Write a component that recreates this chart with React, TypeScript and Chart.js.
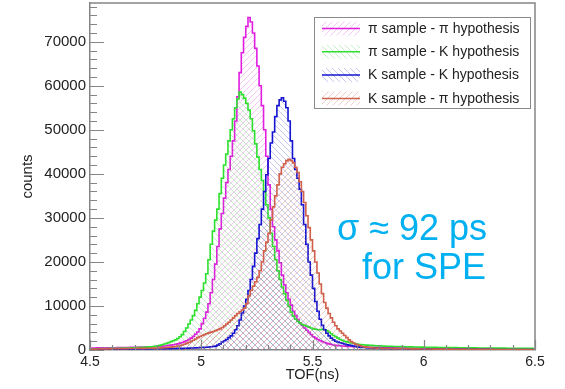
import React, { useEffect, useRef } from 'react';
import { Chart, registerables } from 'chart.js';

Chart.register(...registerables);

// ---- data (histograms, 0.01 ns bins starting at 4.50 ns) ----
const BIN_START = 4.5;
const BIN_WIDTH = 0.01;

const xTickValues = [4.5, 5, 5.5, 6, 6.5];
const yTickValues = [0, 10000, 20000, 30000, 40000, 50000, 60000, 70000];

const seriesLabels = [
  'π sample - π hypothesis',
  'π sample - K hypothesis',
  'K sample - K hypothesis',
  'K sample - π hypothesis',
];

const piSamplePiHyp = [
  400, 450, 420, 480, 450, 500, 470, 520, 500, 480,
  520, 500, 550, 530, 560, 540, 580, 560, 600, 590,
  620, 600, 650, 640, 680, 700, 690, 720, 750, 780,
  800, 850, 880, 920, 980, 1050, 1100, 1200, 1300, 1400,
  1550, 1700, 1900, 2100, 2400, 2700, 3100, 3600, 4100, 4800,
  6000, 7200, 8600, 10500, 13000, 16000, 19500, 23500, 27500, 31000,
  34500, 38000, 41000, 44000, 47500, 52000, 57500, 63000, 67500, 71000,
  73500, 75500, 74500, 72000, 68500, 64500, 60000, 55500, 50000, 44000,
  37500, 32000, 28000, 25000, 22500, 19800, 17000, 14800, 13000, 11500,
  10200, 8800, 7800, 6900, 6200, 5600, 5000, 4500, 4000, 3500,
  3000, 2700, 2400, 2100, 1900, 1700, 1500, 1400, 1250, 1150,
  1050, 1000, 950, 900, 870, 830, 800, 780, 760, 740,
  720, 700, 690, 670, 660, 640, 630, 620, 600, 590,
  580, 570, 560, 550, 540, 530, 520, 510, 500, 500,
  490, 480, 470, 460, 460, 450, 440, 440, 430, 420,
  420, 410, 400, 400, 390, 380, 380, 370, 360, 360,
  350, 350, 340, 340, 330, 330, 320, 320, 310, 310,
  300, 300, 300, 290, 290, 280, 280, 280, 270, 270,
  260, 260, 260, 250, 250, 250, 240, 240, 240, 230,
  230, 230, 220, 220, 220, 210, 210, 210, 200, 200,
];

const piSampleKHyp = [
  250, 280, 260, 300, 290, 320, 300, 340, 330, 360,
  350, 380, 370, 400, 420, 410, 440, 460, 480, 500,
  520, 540, 570, 600, 630, 660, 700, 750, 800, 860,
  950, 1050, 1200, 1350, 1500, 1700, 1900, 2100, 2300, 2600,
  3000, 3500, 4200, 5000, 5900, 6800, 7800, 9000, 10500, 12000,
  13500, 15200, 17300, 20500, 24000, 27000, 29500, 32000, 35500, 39000,
  42000, 44500, 47500, 50000, 52500, 55000, 57000, 58600, 58000, 57200,
  56000, 54500, 52500, 49800, 46800, 43800, 41000, 38500, 36000, 33000,
  30000, 26500, 23500, 20500, 18000, 16000, 14300, 12800, 11300, 9900,
  8600, 7700, 7000, 6500, 6100, 5800, 5600, 5400, 5200, 5000,
  4800, 4700, 4600, 4600, 4700, 4600, 4400, 4100, 3700, 3300,
  3000, 2700, 2400, 2200, 2000, 1850, 1700, 1600, 1500, 1400,
  1300, 1250, 1200, 1150, 1100, 1080, 1050, 1000, 980, 950,
  930, 900, 880, 860, 850, 830, 810, 800, 780, 770,
  760, 740, 730, 720, 700, 690, 680, 670, 660, 650,
  640, 630, 620, 610, 600, 590, 580, 580, 570, 560,
  550, 550, 540, 530, 530, 520, 510, 510, 500, 500,
  490, 490, 480, 480, 470, 470, 460, 460, 450, 450,
  440, 440, 430, 430, 420, 420, 420, 410, 410, 400,
  400, 400, 390, 390, 390, 380, 380, 380, 370, 370,
];

const kSampleKHyp = [
  100, 120, 110, 130, 120, 140, 130, 150, 140, 160,
  150, 170, 160, 180, 170, 190, 200, 190, 210, 220,
  210, 230, 240, 230, 250, 260, 250, 270, 280, 270,
  290, 300, 290, 310, 320, 330, 320, 340, 350, 360,
  370, 380, 390, 400, 420, 440, 460, 480, 500, 530,
  560, 600, 640, 690, 740, 800, 880, 1100, 1400, 1800,
  2100, 2400, 2800, 3200, 3800, 4600, 5500, 6800, 8400, 10000,
  11500, 13500, 16000, 19000, 22000, 25300, 28500, 32000, 36000, 39800,
  43500, 47000, 49500, 53000, 55500, 56800, 57300, 56500, 55000, 52000,
  47500, 43500, 41000, 39000, 36500, 33000, 28500, 24000, 20000, 17000,
  14000, 11000, 8800, 7000, 5600, 4600, 3800, 3200, 2700, 2300,
  2000, 1800, 1650, 1500, 1350, 1200, 1100, 1000, 900, 800,
  720, 660, 600, 560, 520, 480, 450, 430, 410, 390,
  370, 360, 350, 340, 330, 320, 310, 300, 300, 290,
  280, 280, 270, 260, 260, 250, 250, 240, 240, 230,
  230, 220, 220, 220, 210, 210, 200, 200, 200, 190,
  190, 190, 180, 180, 180, 170, 170, 170, 160, 160,
  160, 160, 150, 150, 150, 150, 140, 140, 140, 140,
  130, 130, 130, 130, 130, 120, 120, 120, 120, 120,
  110, 110, 110, 110, 110, 100, 100, 100, 100, 100,
];

const kSamplePiHyp = [
  200, 220, 210, 240, 230, 250, 240, 260, 270, 260,
  280, 290, 280, 300, 310, 300, 320, 330, 340, 330,
  350, 360, 370, 360, 380, 390, 400, 410, 420, 430,
  440, 460, 480, 520, 560, 600, 650, 720, 800, 900,
  1000, 1150, 1300, 1500, 1700, 1950, 2200, 2500, 2800, 3050,
  3300, 3500, 3700, 3900, 4050, 4200, 4400, 4600, 4800, 5100,
  5500, 5900, 6300, 6800, 7300, 7800, 8300, 8700, 9100, 9500,
  10500, 12300, 13500, 14500, 15500, 16500, 18000, 20000, 22500, 24500,
  26500, 29500, 32500, 35000, 37500, 40000, 41500, 42300, 43000, 43300,
  43000, 42500, 41500, 40300, 38200, 36000, 33500, 30500, 27800, 25000,
  22500, 20000, 17500, 15000, 12800, 10800, 9500, 8300, 7300, 6300,
  5500, 4800, 4300, 3800, 3300, 2800, 2300, 1900, 1600, 1300,
  1100, 950, 800, 700, 620, 560, 510, 470, 440, 410,
  390, 370, 360, 350, 340, 330, 320, 310, 300, 300,
  290, 280, 280, 270, 260, 260, 250, 250, 240, 240,
  230, 230, 220, 220, 210, 210, 210, 200, 200, 200,
  190, 190, 190, 180, 180, 180, 170, 170, 170, 160,
  160, 160, 160, 150, 150, 150, 150, 140, 140, 140,
  140, 130, 130, 130, 130, 130, 120, 120, 120, 120,
  120, 110, 110, 110, 110, 110, 100, 100, 100, 100,
];

const annotationLines = ['σ ≈ 92 ps', 'for SPE'];

// ---- styles ----
const FONT = '"Liberation Sans", Arial, Helvetica, sans-serif';
const AXIS_COLOR = '#858585';
const TEXT_COLOR = '#222222';
const lineColors = ['#e01ee0', '#2ee02e', '#1414d2', '#d0604c'];
const hatchColors = [
  'rgba(225,80,225,0.33)',
  'rgba(80,205,80,0.33)',
  'rgba(70,70,205,0.3)',
  'rgba(210,115,95,0.35)',
];
const hatchDirs = [1, -1, -1, 1];

function makeHatch(color: string, dir: number, size = 6): CanvasPattern | string {
  const c = document.createElement('canvas');
  c.width = size;
  c.height = size;
  const g = c.getContext('2d');
  if (!g) return color;
  g.strokeStyle = color;
  g.lineWidth = 1;
  g.beginPath();
  if (dir === 1) {
    g.moveTo(0, size); g.lineTo(size, 0);
    g.moveTo(-1, 1); g.lineTo(1, -1);
    g.moveTo(size - 1, size + 1); g.lineTo(size + 1, size - 1);
  } else {
    g.moveTo(0, 0); g.lineTo(size, size);
    g.moveTo(-1, size - 1); g.lineTo(1, size + 1);
    g.moveTo(size - 1, -1); g.lineTo(size + 1, 1);
  }
  g.stroke();
  return g.createPattern(c, 'repeat') || color;
}

function toPoints(values: number[]) {
  return values.map((v, i) => ({ x: BIN_START + (i + 0.5) * BIN_WIDTH, y: v }));
}

const rootStylePlugin = {
  id: 'rootStyle',
  afterDatasetsDraw(chart: any) {
    const { ctx, chartArea, scales } = chart;
    const { left, right, top, bottom } = chartArea;
    const x = scales.x;
    const y = scales.y;
    ctx.save();
    // frame (top & right)
    ctx.strokeStyle = AXIS_COLOR;
    ctx.lineWidth = 1.5;
    ctx.beginPath();
    ctx.moveTo(left, top);
    ctx.lineTo(right, top);
    ctx.lineTo(right, bottom);
    ctx.stroke();
    // y ticks (inward)
    ctx.lineWidth = 1.2;
    ctx.beginPath();
    for (let v = 0; v <= y.max; v += 2000) {
      const py = Math.round(y.getPixelForValue(v)) + 0.5;
      const len = v % 10000 === 0 ? 14 : 7;
      ctx.moveTo(left, py);
      ctx.lineTo(left + len, py);
    }
    // x ticks (inward)
    for (let k = 0; k <= 20; k++) {
      const v = x.min + k * 0.1;
      const px = Math.round(x.getPixelForValue(v)) + 0.5;
      const len = k % 5 === 0 ? 10 : 5;
      ctx.moveTo(px, bottom);
      ctx.lineTo(px, bottom - len);
    }
    ctx.stroke();
    ctx.restore();
  },
  afterDraw(chart: any) {
    const { ctx } = chart;
    ctx.save();
    // legend box
    const bx = 314, by = 17, bw = 216, bh = 91;
    ctx.fillStyle = '#ffffff';
    ctx.fillRect(bx, by, bw, bh);
    ctx.strokeStyle = '#8a8a8a';
    ctx.lineWidth = 1;
    ctx.strokeRect(bx + 0.5, by + 0.5, bw, bh);
    chart.data.datasets.forEach((ds: any, i: number) => {
      const cy = 28.5 + i * 23.3;
      ctx.fillStyle = ds.backgroundColor;
      ctx.fillRect(322, cy - 7, 38, 14);
      ctx.strokeStyle = ds.borderColor;
      ctx.lineWidth = 1.5;
      ctx.beginPath();
      ctx.moveTo(322, cy);
      ctx.lineTo(360, cy);
      ctx.stroke();
      ctx.fillStyle = TEXT_COLOR;
      ctx.font = `14px ${FONT}`;
      ctx.textAlign = 'left';
      ctx.textBaseline = 'middle';
      ctx.fillText(ds.label, 368, cy + 0.5);
    });
    // annotation
    ctx.fillStyle = '#00b0f0';
    ctx.font = `36px ${FONT}`;
    ctx.textAlign = 'right';
    ctx.textBaseline = 'alphabetic';
    ctx.fillText(annotationLines[0], 487, 240);
    ctx.fillText(annotationLines[1], 486, 279);
    ctx.restore();
  },
};

export default function App() {
  const ref = useRef<HTMLCanvasElement>(null);

  useEffect(() => {
    const canvas = ref.current;
    if (!canvas) return;
    const series = [piSamplePiHyp, piSampleKHyp, kSampleKHyp, kSamplePiHyp];
    const datasets = series.map((vals, i) => ({
      label: seriesLabels[i],
      data: toPoints(vals),
      borderColor: lineColors[i],
      backgroundColor: makeHatch(hatchColors[i], hatchDirs[i]),
      borderWidth: 1.6,
      stepped: 'middle' as const,
      fill: 'origin',
      pointRadius: 0,
      order: 3 - i,
    }));

    const chart = new Chart(canvas, {
      type: 'line',
      data: { datasets },
      options: {
        responsive: false,
        animation: false,
        devicePixelRatio: 1,
        layout: { padding: { left: 0, right: 30, top: 3, bottom: 0 } },
        plugins: { legend: { display: false }, tooltip: { enabled: false } },
        elements: { point: { radius: 0 } },
        scales: {
          x: {
            type: 'linear',
            min: 4.5,
            max: 6.5,
            grid: { display: false, drawTicks: false },
            border: { display: true, color: AXIS_COLOR, width: 1.5 },
            ticks: {
              color: TEXT_COLOR,
              font: { family: FONT, size: 14 },
              padding: 4,
              maxRotation: 0,
              autoSkip: false,
              callback: (v: any) => String(v),
            },
            afterBuildTicks: (s: any) => {
              s.ticks = xTickValues.map((v) => ({ value: v }));
            },
            afterFit: (s: any) => {
              s.height = 39;
              s.paddingLeft = 0;
              s.paddingRight = 0;
              s.paddingTop = 0;
              s.paddingBottom = 0;
            },
            title: {
              display: true,
              text: 'TOF(ns)',
              color: TEXT_COLOR,
              font: { family: FONT, size: 14.5 },
              padding: { top: 0, bottom: 5 },
            },
          },
          y: {
            type: 'linear',
            min: 0,
            max: 78800,
            grid: { display: false, drawTicks: false },
            border: { display: true, color: AXIS_COLOR, width: 1.5 },
            ticks: {
              color: TEXT_COLOR,
              font: { family: FONT, size: 15 },
              padding: 4,
              callback: (v: any) => String(v),
            },
            afterBuildTicks: (s: any) => {
              s.ticks = yTickValues.map((v) => ({ value: v }));
            },
            afterFit: (s: any) => {
              s.width = 90;
              s.paddingLeft = 0;
              s.paddingRight = 0;
              s.paddingTop = 0;
              s.paddingBottom = 0;
            },
            title: {
              display: true,
              text: 'counts',
              color: TEXT_COLOR,
              font: { family: FONT, size: 15 },
              padding: { top: 19, bottom: 0 },
            },
          },
        },
      },
      plugins: [rootStylePlugin],
    } as any);

    return () => chart.destroy();
  }, []);

  return (
    <div style={{ position: 'fixed', left: 0, top: 0, width: 565, height: 389, background: '#fff' }}>
      <canvas ref={ref} width={565} height={389} style={{ display: 'block' }} />
    </div>
  );
}
